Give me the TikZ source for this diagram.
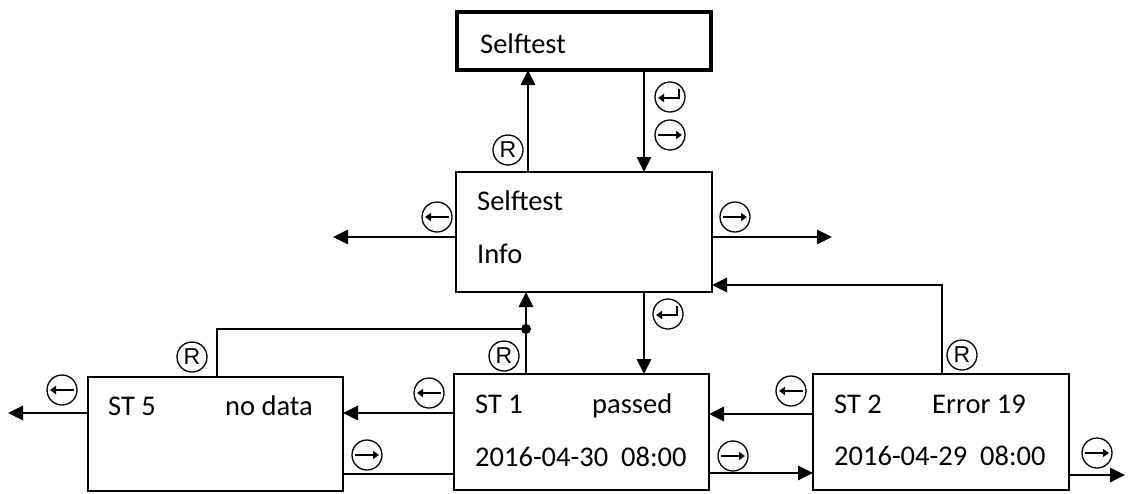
\documentclass[tikz,border=0pt]{standalone}
\usepackage{fontspec}
\setmainfont{Carlito}
\newfontfamily\rfont{Liberation Sans}
\usetikzlibrary{arrows.meta}
\tikzset{
  box/.style={draw, line width=2.2pt, inner sep=0pt, outer sep=0pt},
  lbl/.style={anchor=base west, inner sep=0pt, font=\fontsize{28.5}{30}\selectfont},
  conn/.style={line width=2.8pt},
  arr/.style={conn, -{Triangle[length=15pt,width=14pt]}},
  kc/.style={draw, circle, line width=1.3pt, minimum size=30pt, inner sep=0pt, outer sep=0pt},
  kR/.style={kc, font=\rfont\fontsize{23}{23}\selectfont},
  kl/.style={kc, path picture={\draw[line width=2.2pt,-{Triangle[length=6pt,width=8pt]}]
      ([xshift=12pt]path picture bounding box.center) -- ([xshift=-12pt]path picture bounding box.center);}},
  kr/.style={kc, path picture={\draw[line width=2.2pt,-{Triangle[length=6pt,width=8pt]}]
      ([xshift=-12pt]path picture bounding box.center) -- ([xshift=12pt]path picture bounding box.center);}},
  ke/.style={kc, path picture={\draw[line width=2.2pt,-{Triangle[length=6pt,width=8pt]}]
      ([xshift=9pt,yshift=8pt]path picture bounding box.center) -- ([xshift=9pt,yshift=-1pt]path picture bounding box.center)
      -- ([xshift=-12pt,yshift=-1pt]path picture bounding box.center);}},
}
\begin{document}
\begin{tikzpicture}[x=1pt,y=-1pt]
\useasboundingbox (0,0) rectangle (1128,493);
% boxes
\node[box, line width=4.5pt, minimum width=254pt, minimum height=58pt] (top) at (584,41) {};
\node[box, minimum width=256pt, minimum height=120pt] (mid) at (584,232) {};
\node[box, minimum width=255pt, minimum height=114pt] (st5) at (215.5,434) {};
\node[box, minimum width=255pt, minimum height=116pt] (st1) at (581.5,432) {};
\node[box, minimum width=256pt, minimum height=116pt] (st2) at (941,432) {};
% texts
\node[lbl] (ttop) at (480,53) {Selftest};
\node[lbl] (tmid1) at (477,210) {Selftest};
\node[lbl] (tmid2) at (477,263) {Info};
\node[lbl] (t5a) at (108,415) {ST 5};
\node[lbl] (t5b) at (225,415) {no data};
\node[lbl] (t1a) at (475,413) {ST 1};
\node[lbl] (t1b) at (592,413) {passed};
\node[lbl] (t1c) at (475,466) {2016-04-30\ \ 08:00};
\node[lbl] (t2a) at (834,413) {ST 2};
\node[lbl] (t2b) at (932,413) {Error 19};
\node[lbl] (t2c) at (834,465) {2016-04-29\ \ 08:00};
% coordinates
\coordinate (c1) at (528,0);
\coordinate (c2) at (644,0);
\coordinate (midL) at (333,237);
\coordinate (midR) at (832,237);
\node[circle, fill, minimum size=10pt, inner sep=0pt] (jn) at (526,329) {};
\coordinate (st5up) at (217,329);
\coordinate (st2up) at (942,285);
\coordinate (st5L) at (8,413);
\coordinate (y413) at (0,413);
\coordinate (y474) at (0,474);
\coordinate (y414) at (0,414);
\coordinate (y473) at (0,473);
\coordinate (st2R) at (1125,475);
% connectors
\draw[arr] (mid.north -| c1) -- (top.south -| c1);
\draw[arr] (top.south -| c2) -- (mid.north -| c2);
\draw[arr] (mid.west |- midL) -- (midL);
\draw[arr] (mid.east |- midR) -- (midR);
\draw[arr] (mid.south -| c2) -- (st1.north -| c2);
\draw[arr] (st1.north -| jn) -- (mid.south -| jn);
\draw[conn] (st5.north -| st5up) -- (st5up) -- (jn.center);
\draw[arr] (st2.north -| st2up) -- (st2up) -- (mid.east |- st2up);
\draw[arr] (st5.west |- st5L) -- (st5L);
\draw[arr] (st1.west |- y413) -- (st5.east |- y413);
\draw[conn] (st5.east |- y474) -- (st1.west |- y474);
\draw[arr] (st2.west |- y414) -- (st1.east |- y414);
\draw[arr] (st1.east |- y473) -- (st2.west |- y473);
\draw[arr] (st2.east |- st2R) -- (st2R);
% key symbols
\node[kR] (r1) at (508,150) {R};
\node[ke] (e1) at (670,97) {};
\node[kr] (f1) at (670,135) {};
\node[kl] (l1) at (437,217) {};
\node[kr] (f2) at (735,217) {};
\node[ke] (e2) at (668,314) {};
\node[kR] (r2) at (504,356) {R};
\node[kR] (r3) at (192,357) {R};
\node[kR] (r4) at (962,355) {R};
\node[kl] (l2) at (62,390) {};
\node[kl] (l3) at (429,393) {};
\node[kr] (f3) at (367,455) {};
\node[kl] (l4) at (791,391) {};
\node[kr] (f4) at (733,456) {};
\node[kr] (f5) at (1097,453) {};
\end{tikzpicture}
\end{document}
